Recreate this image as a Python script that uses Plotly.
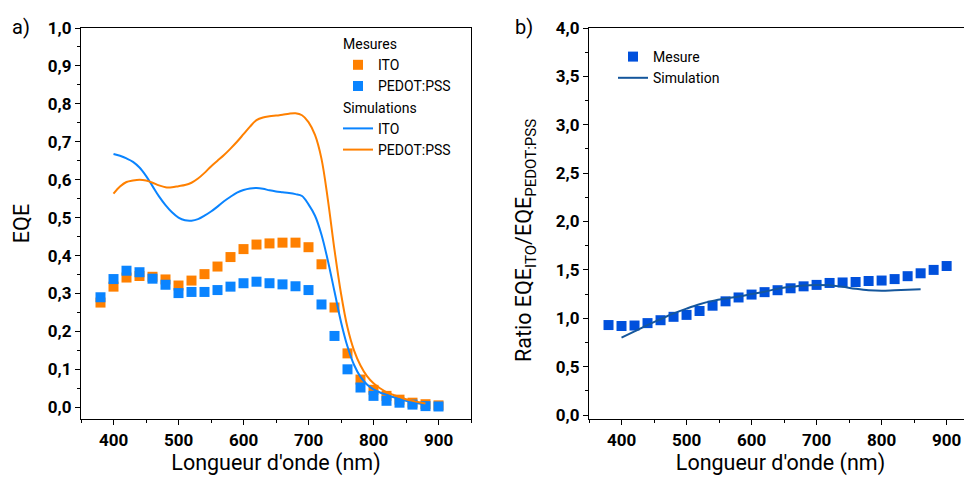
import plotly.graph_objects as go

# ---- data (a) ----
wl_meas = [380, 400, 420, 440, 460, 480, 500, 520, 540, 560, 580, 600, 620, 640,
           660, 680, 700, 720, 740, 760, 780, 800, 820, 840, 860, 880, 900]
eqe_ito_meas = [0.276, 0.318, 0.342, 0.346, 0.344, 0.337, 0.321, 0.334, 0.351, 0.371,
                0.396, 0.417, 0.429, 0.432, 0.434, 0.434, 0.422, 0.377, 0.263, 0.142,
                0.073, 0.046, 0.030, 0.020, 0.012, 0.008, 0.005]
eqe_pedot_meas = [0.290, 0.338, 0.360, 0.356, 0.339, 0.323, 0.301, 0.304, 0.304, 0.309,
                  0.318, 0.327, 0.331, 0.327, 0.324, 0.319, 0.309, 0.271, 0.188, 0.100,
                  0.052, 0.030, 0.017, 0.012, 0.007, 0.003, 0.002]

wl_sim = [400, 410, 420, 430, 440, 450, 460, 470, 480, 490, 500, 510, 520, 530, 540,
          550, 560, 570, 580, 590, 600, 610, 620, 630, 640, 650, 660, 670, 680, 690,
          700, 710, 720, 730, 740, 750, 760, 770, 780, 790, 800, 810, 820, 830, 840,
          850, 860, 870, 880]
eqe_ito_sim = [0.668, 0.663, 0.656, 0.647, 0.632, 0.610, 0.583, 0.556, 0.533, 0.514,
               0.500, 0.493, 0.492, 0.496, 0.505, 0.516, 0.529, 0.543, 0.555, 0.566,
               0.573, 0.577, 0.578, 0.576, 0.572, 0.569, 0.567, 0.565, 0.562, 0.557,
               0.535, 0.505, 0.455, 0.385, 0.305, 0.225, 0.160, 0.112, 0.080, 0.060,
               0.047, 0.039, 0.033, 0.027, 0.022, 0.017, 0.013, 0.010, 0.008]
eqe_pedot_sim = [0.563, 0.582, 0.594, 0.598, 0.600, 0.598, 0.592, 0.585, 0.580, 0.580,
                 0.583, 0.586, 0.592, 0.603, 0.618, 0.635, 0.650, 0.665, 0.682, 0.700,
                 0.720, 0.740, 0.757, 0.764, 0.767, 0.769, 0.771, 0.774, 0.775, 0.770,
                 0.752, 0.718, 0.655, 0.545, 0.415, 0.300, 0.210, 0.150, 0.110, 0.082,
                 0.063, 0.050, 0.040, 0.033, 0.027, 0.021, 0.017, 0.013, 0.010]

# ---- data (b) ----
ratio_meas = [0.93, 0.92, 0.925, 0.95, 0.98, 1.015, 1.035, 1.075, 1.13, 1.175, 1.215,
              1.245, 1.27, 1.29, 1.31, 1.33, 1.345, 1.365, 1.37, 1.375, 1.385, 1.39,
              1.405, 1.435, 1.465, 1.50, 1.54]
wl_ratio_sim = [400, 420, 440, 460, 480, 500, 520, 540, 560, 580, 600, 620, 640, 660,
                680, 700, 720, 740, 760, 780, 800, 820, 840, 860]
ratio_sim = [0.80, 0.865, 0.93, 0.99, 1.05, 1.10, 1.145, 1.18, 1.205, 1.225, 1.25,
             1.275, 1.305, 1.325, 1.34, 1.345, 1.342, 1.325, 1.305, 1.29, 1.285,
             1.29, 1.295, 1.30]

ORANGE = "#FF8000"
BLUE = "#0A84FF"
ROYAL = "#0050DC"
NAVY = "#14569C"
FONT = "Roboto"

fig = go.Figure()

fig.add_trace(go.Scatter(x=wl_meas, y=eqe_ito_meas, mode="markers", name="ITO",
                         marker=dict(symbol="square", size=10, color=ORANGE),
                         legendgroup="mes", legendgrouptitle_text="Mesures",
                         xaxis="x", yaxis="y", legend="legend"))
fig.add_trace(go.Scatter(x=wl_meas, y=eqe_pedot_meas, mode="markers", name="PEDOT:PSS",
                         marker=dict(symbol="square", size=10, color=BLUE),
                         legendgroup="mes", xaxis="x", yaxis="y", legend="legend"))
fig.add_trace(go.Scatter(x=wl_sim, y=eqe_ito_sim, mode="lines", name="ITO",
                         line=dict(color=BLUE, width=2, shape="spline"),
                         legendgroup="sim", legendgrouptitle_text="Simulations",
                         xaxis="x", yaxis="y", legend="legend"))
fig.add_trace(go.Scatter(x=wl_sim, y=eqe_pedot_sim, mode="lines", name="PEDOT:PSS",
                         line=dict(color=ORANGE, width=2, shape="spline"),
                         legendgroup="sim", xaxis="x", yaxis="y", legend="legend"))

fig.add_trace(go.Scatter(x=wl_meas, y=ratio_meas, mode="markers", name="Mesure",
                         marker=dict(symbol="square", size=10, color=ROYAL),
                         xaxis="x2", yaxis="y2", legend="legend2"))
fig.add_trace(go.Scatter(x=wl_ratio_sim, y=ratio_sim, mode="lines", name="Simulation",
                         line=dict(color=NAVY, width=2, shape="spline"),
                         xaxis="x2", yaxis="y2", legend="legend2"))

# page has an 8px body margin: figure drawn at (8, 8)
OFF = 8
W, H = 972 - OFF, 477 - OFF
def px_x(p):
    return (p - OFF) / W
def px_y(p):
    return 1 - (p - OFF) / H

TITLE_FONT = dict(family=FONT, size=21.5, color="black")
axis_common = dict(showline=True, linecolor="black", linewidth=1.3, ticks="outside",
                   ticklen=5, tickwidth=1.3, tickcolor="black", showgrid=False,
                   zeroline=False, automargin=False,
                   tickfont=dict(family=FONT, size=17, color="black", weight="bold"))

fig.update_layout(
    width=W, height=H, margin=dict(l=0, r=0, t=0, b=0),
    paper_bgcolor="white", plot_bgcolor="white",
    separators=", ",
    font=dict(family=FONT, color="black"),
    xaxis=dict(domain=[px_x(81), px_x(471)], range=[350, 950], dtick=100,
               tick0=400, mirror=True, anchor="y",
               minor=dict(ticks="outside", dtick=50, ticklen=3, tickcolor="black"),
               title=dict(text="Longueur d'onde (nm)", standoff=4, font=TITLE_FONT),
               **axis_common),
    yaxis=dict(domain=[px_y(419), px_y(28)], range=[-0.031, 1.0], dtick=0.1,
               tick0=0, tickformat=".1f", mirror=True, anchor="x",
               minor=dict(ticks="outside", dtick=0.05, ticklen=3, tickcolor="black"),
               title=dict(text="EQE", standoff=12, font=TITLE_FONT), **axis_common),
    xaxis2=dict(domain=[px_x(589), 1.0], range=[350, 939], dtick=100, tick0=400,
                mirror=True, anchor="y2",
                minor=dict(ticks="outside", dtick=50, ticklen=3, tickcolor="black"),
                title=dict(text="Longueur d'onde (nm)", standoff=4, font=TITLE_FONT),
                **axis_common),
    yaxis2=dict(domain=[px_y(419), px_y(28)], range=[-0.041, 4.0], dtick=0.5,
                tick0=0, tickformat=".1f", anchor="x2",
                minor=dict(ticks="outside", dtick=0.25, ticklen=3, tickcolor="black"),
                **axis_common),
    legend=dict(x=px_x(338), y=px_y(28), xanchor="left", yanchor="top",
                bgcolor="rgba(0,0,0,0)", tracegroupgap=0, traceorder="grouped",
                font=dict(family=FONT, size=14, color="black"),
                grouptitlefont=dict(family=FONT, size=14, color="black")),
    legend2=dict(x=px_x(613), y=px_y(41), xanchor="left", yanchor="top",
                 bgcolor="rgba(0,0,0,0)",
                 font=dict(family=FONT, size=14, color="black")),
    annotations=[
        dict(text="a)", x=px_x(10), y=px_y(27), xref="paper", yref="paper",
             xanchor="left", yanchor="middle", showarrow=False,
             font=dict(family=FONT, size=20, color="black")),
        dict(text="b)", x=px_x(513), y=px_y(27), xref="paper", yref="paper",
             xanchor="left", yanchor="middle", showarrow=False,
             font=dict(family=FONT, size=20, color="black")),
        dict(text="Ratio EQE<sub>ITO</sub>/EQE<sub>PEDOT:PSS</sub>",
             x=px_x(525), y=px_y(241), xref="paper", yref="paper",
             xanchor="center", yanchor="middle", textangle=-90, showarrow=False,
             font=TITLE_FONT),
    ],
)

fig.write_html("out.html")
